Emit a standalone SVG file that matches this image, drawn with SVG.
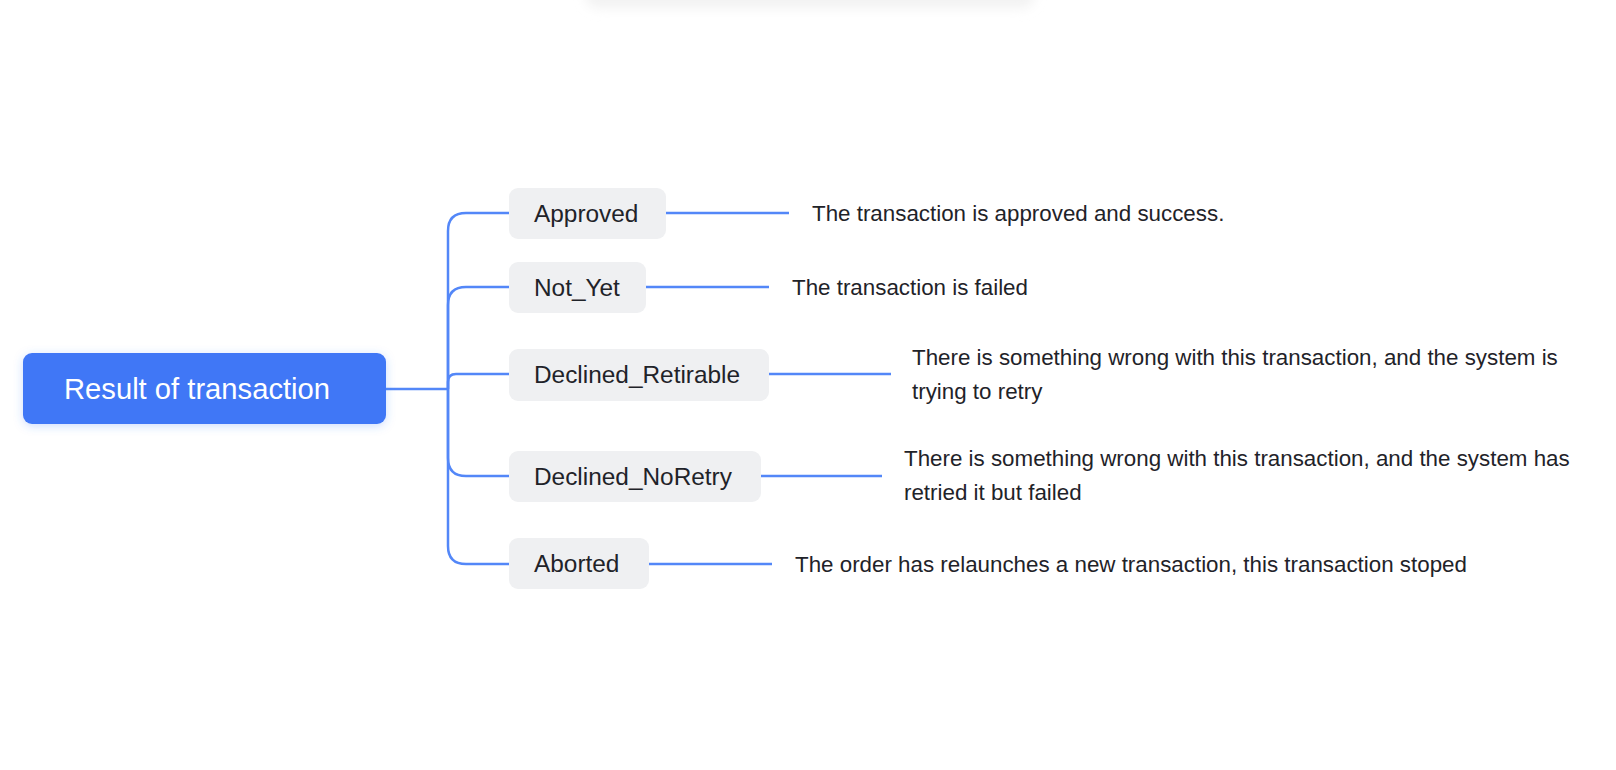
<svg xmlns="http://www.w3.org/2000/svg" width="1616" height="770" viewBox="0 0 1616 770">
  <defs>
    <filter id="rootShadow" x="-20%" y="-40%" width="140%" height="180%">
      <feDropShadow dx="0" dy="2" stdDeviation="5" flood-color="#3f77f6" flood-opacity="0.25"/>
    </filter>
    <filter id="topBlur" x="-20%" y="-200%" width="140%" height="500%">
      <feGaussianBlur stdDeviation="6"/>
    </filter>
  </defs>
  <style>
    .node rect { fill: #eff0f2; }
    .label { font-family: "Liberation Sans", Arial, sans-serif; font-size: 24.4px; fill: #1f2329; }
    .desc { font-family: "Liberation Sans", Arial, sans-serif; font-size: 22.35px; fill: #1f2329; }
    .root-label { font-family: "Liberation Sans", Arial, sans-serif; font-size: 29.2px; fill: #ffffff; }
    .conn { fill: none; stroke: #5387f8; stroke-width: 2.5; stroke-linecap: butt; }
  </style>
  <rect width="1616" height="770" fill="#ffffff"/>
  <rect x="585" y="-20" width="450" height="28" rx="14" fill="#f2f2f2" filter="url(#topBlur)"/>

  <g id="connectors">
    <path class="conn" d="M386,389 L448,389"/>
    <path class="conn" d="M448,389 L448,231 Q448,213 466,213 L509,213"/>
    <path class="conn" d="M448,389 L448,305 Q448,287 466,287 L509,287"/>
    <path class="conn" d="M448,389 L448,382 Q448,374 456,374 L509,374"/>
    <path class="conn" d="M448,389 L448,458 Q448,476 466,476 L509,476"/>
    <path class="conn" d="M448,389 L448,546 Q448,564 466,564 L509,564"/>
    <path class="conn" d="M666,213 L789,213"/>
    <path class="conn" d="M646,287 L769,287"/>
    <path class="conn" d="M769,374 L891,374"/>
    <path class="conn" d="M761,476 L882,476"/>
    <path class="conn" d="M649,564 L772,564"/>
  </g>

  <g id="root">
    <rect x="23" y="353" width="363" height="71" rx="9" fill="#3f77f6" filter="url(#rootShadow)"/>
    <text class="root-label" x="64" y="399">Result of transaction</text>
  </g>

  <g id="approved" class="node">
    <rect x="509" y="188" width="157" height="51" rx="9"/>
    <text class="label" x="534" y="222">Approved</text>
  </g>
  <g id="not_yet" class="node">
    <rect x="509" y="262" width="137" height="51" rx="9"/>
    <text class="label" x="534" y="296">Not_Yet</text>
  </g>
  <g id="declined_retirable" class="node">
    <rect x="509" y="349" width="260" height="52" rx="9"/>
    <text class="label" x="534" y="383">Declined_Retirable</text>
  </g>
  <g id="declined_noretry" class="node">
    <rect x="509" y="451" width="252" height="51" rx="9"/>
    <text class="label" x="534" y="485">Declined_NoRetry</text>
  </g>
  <g id="aborted" class="node">
    <rect x="509" y="538" width="140" height="51" rx="9"/>
    <text class="label" x="534" y="572">Aborted</text>
  </g>

  <g id="desc_approved">
    <text class="desc" x="812" y="221">The transaction is approved and success.</text>
  </g>
  <g id="desc_not_yet">
    <text class="desc" x="792" y="295">The transaction is failed</text>
  </g>
  <g id="desc_declined_retirable">
    <text class="desc" x="912" y="365">There is something wrong with this transaction, and the system is</text>
    <text class="desc" x="912" y="399">trying to retry</text>
  </g>
  <g id="desc_declined_noretry">
    <text class="desc" x="904" y="466">There is something wrong with this transaction, and the system has</text>
    <text class="desc" x="904" y="500">retried it but failed</text>
  </g>
  <g id="desc_aborted">
    <text class="desc" x="795" y="572">The order has relaunches a new transaction, this transaction stoped</text>
  </g>
</svg>
